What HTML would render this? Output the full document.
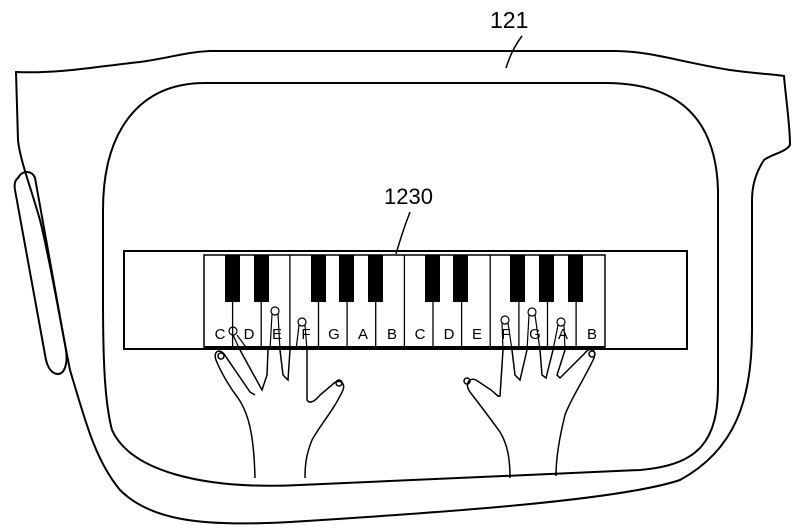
<!DOCTYPE html>
<html><head><meta charset="utf-8"><style>html,body{margin:0;padding:0;background:#fff}svg{display:block}</style></head>
<body>
<svg width="800" height="525" viewBox="0 0 800 525" xmlns="http://www.w3.org/2000/svg" fill="none" stroke="#000" stroke-width="2" font-family="Liberation Sans, sans-serif">
<!-- outer frame -->
<path d="M16,72 C60,74 100,66 140,62 C170,58 185,52 210,51 L615,51 C650,51 680,62 730,70 C760,74 770,74 784,76 C786,100 790,125 790,145 C786,152 772,154 764,160 C756,172 752,185 752,200 L752,330 C752,400 735,450 680,480 C620,500 450,512 290,522 C200,527 150,520 120,490 C95,460 85,420 70,370 C60,320 50,260 40,220 C30,185 20,160 18,140 Z"/>
<!-- inner frame -->
<path d="M205,83 L605,83 C680,83 716,120 718,190 L718,385 C718,440 700,465 640,470 L300,485 C200,490 130,470 112,430 C104,400 103,350 103,300 L103,210 C103,130 140,83 205,83 Z"/>
<!-- side pill -->
<path d="M18,178 C22,170 32,170 35,178 L66,350 C68,365 64,374 58,374 C52,374 48,368 46,360 L15,190 C14,184 15,180 18,178 Z"/>
<!-- labels -->
<text x="490" y="28" font-size="23" fill="#000" stroke="none">121</text>
<path d="M506,68 C510,55 515,45 522,36" stroke-width="1.5"/>
<text x="384" y="204" font-size="22" fill="#000" stroke="none">1230</text>
<path d="M396,254 C400,240 405,225 410,212" stroke-width="1.5"/>
<!-- keyboard -->
<rect x="124" y="251" width="563" height="98"/>
<rect x="204" y="255" width="401" height="92" stroke-width="1.5"/>
<line x1="204" y1="348" x2="605" y2="348" stroke-width="4"/>
<g stroke-width="1.3">
<line x1="232.6" y1="255" x2="232.6" y2="347"/><line x1="261.2" y1="255" x2="261.2" y2="347"/><line x1="289.9" y1="255" x2="289.9" y2="347"/><line x1="318.5" y1="255" x2="318.5" y2="347"/><line x1="347.1" y1="255" x2="347.1" y2="347"/><line x1="375.7" y1="255" x2="375.7" y2="347"/><line x1="404.4" y1="255" x2="404.4" y2="347"/><line x1="433" y1="255" x2="433" y2="347"/><line x1="461.6" y1="255" x2="461.6" y2="347"/><line x1="490.2" y1="255" x2="490.2" y2="347"/><line x1="518.9" y1="255" x2="518.9" y2="347"/><line x1="547.5" y1="255" x2="547.5" y2="347"/><line x1="576.1" y1="255" x2="576.1" y2="347"/>
</g>
<g fill="#000" stroke="none">
<rect x="225" y="255" width="15" height="47"/><rect x="254" y="255" width="15" height="47"/>
<rect x="311" y="255" width="15" height="47"/><rect x="339" y="255" width="15" height="47"/><rect x="368" y="255" width="15" height="47"/>
<rect x="425" y="255" width="15" height="47"/><rect x="453" y="255" width="15" height="47"/>
<rect x="510" y="255" width="15" height="47"/><rect x="539" y="255" width="15" height="47"/><rect x="568" y="255" width="15" height="47"/>
</g>
<g fill="#000" stroke="none" font-size="15" text-anchor="middle">
<text x="220" y="339">C</text><text x="249" y="339">D</text><text x="277" y="339">E</text><text x="306" y="339">F</text><text x="334" y="339">G</text><text x="363" y="339">A</text><text x="392" y="339">B</text><text x="420" y="339">C</text><text x="449" y="339">D</text><text x="477" y="339">E</text><text x="506" y="339">F</text><text x="535" y="339">G</text><text x="563" y="339">A</text><text x="592" y="339">B</text>
</g>
<!-- fingertips -->
<g stroke-width="1.2">
<circle cx="233" cy="331" r="4"/><circle cx="275" cy="311" r="4"/><circle cx="302" cy="322" r="4"/>
<circle cx="505" cy="320" r="4"/><circle cx="532" cy="312" r="4"/><circle cx="561" cy="322" r="4"/>
<path d="M233,335 L240,350 M237,335 L248,350 M272,314 L270,350 M278,314 L280,350 M299,325 L296,350 M305,325 L307,350"/>
<path d="M502,323 L503,350 M508,323 L512,350 M529,315 L527,350 M535,315 L540,350 M558,325 L553,350 M564,325 L565,350"/>
</g>
<!-- left hand -->
<g stroke-width="1.5">
<path d="M255,478 C254,440 250,415 238,398 C228,385 220,370 216,360 C213,352 219,348 224,354 L250,392 L255,395"/>
<path d="M240,350 L262,390 L267,375 L268,350"/>
<path d="M280,350 L283,375 L288,380 L290,350"/>
<path d="M307,350 L307,400 C310,405 316,400 320,395 L332,385 C338,378 346,382 343,390 C334,410 320,425 312,440 C306,455 305,465 305,478"/>
<circle cx="221" cy="356" r="3"/><circle cx="339" cy="383" r="3"/>
</g>
<!-- right hand -->
<g stroke-width="1.5">
<path d="M510,478 C510,460 508,445 500,432 C490,418 480,405 470,392 C464,383 470,377 476,380 L488,388 C495,392 498,398 500,396 L503,350"/>
<path d="M512,350 L515,375 L520,380 L527,350"/>
<path d="M540,350 L542,375 L546,378 L553,350"/>
<path d="M565,350 L557,375 L560,378 L585,353 C590,346 597,350 594,358 C585,378 570,400 565,415 C560,435 556,455 556,476"/>
<circle cx="467" cy="381" r="3"/><circle cx="592" cy="354" r="3"/>
</g>
</svg>
</body></html>
